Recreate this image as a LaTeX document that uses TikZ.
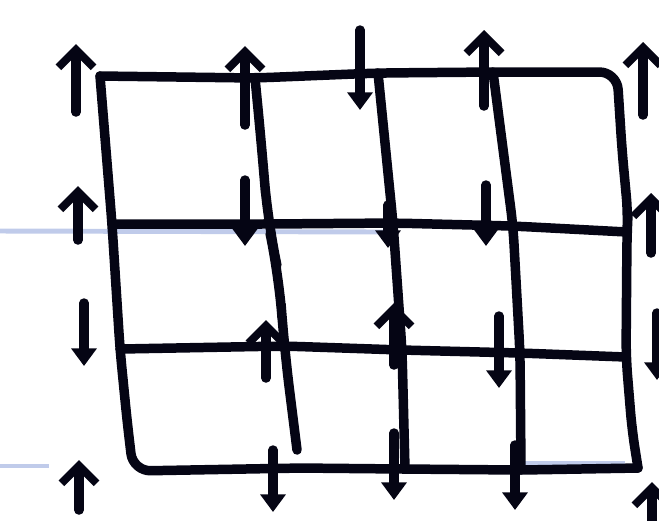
\documentclass[tikz,border=0pt]{standalone}
\usetikzlibrary{arrows.meta}
\definecolor{inkc}{RGB}{5,5,20}
\definecolor{rulec}{RGB}{150,168,220}
\tikzset{
  gridline/.style={line width=2.7pt, draw=inkc, line cap=round, line join=round, rounded corners=5pt},
  uparr/.style={line width=2.7pt, draw=inkc, line cap=round, -{Straight Barb[length=5pt,width=10pt,line width=2.3pt]}},
  downarr/.style={line width=2.7pt, draw=inkc, line cap=round, -{Triangle[length=5pt,width=7pt]}},
  ruleline/.style={line width=1.4pt, draw=rulec, opacity=0.6}
}
\begin{document}
\begin{tikzpicture}[x=0.01cm,y=-0.01cm]
\useasboundingbox (0,0) rectangle (659,520);
\clip (0,0) rectangle (659,520);
% notebook rule lines
\draw[ruleline] (0,231) -- (390,232);
\draw[ruleline,dash pattern=on 14pt off 4pt] (0,466) -- (60,466);
\draw[ruleline] (520,463) -- (625,463);
% grid points
\coordinate (p00) at (100,76);  \coordinate (p01) at (255,78);  \coordinate (p02) at (378,73);  \coordinate (p03) at (493,72);  \coordinate (p04) at (617,72);
\coordinate (p10) at (112,224); \coordinate (p11) at (268,224); \coordinate (p12) at (393,223); \coordinate (p13) at (513,226); \coordinate (p14) at (627,232);
\coordinate (p20) at (120,349); \coordinate (p21) at (284,346); \coordinate (p22) at (402,350); \coordinate (p23) at (520,353); \coordinate (p24) at (626,357);
\coordinate (p30) at (133,471); \coordinate (p31) at (297,450); \coordinate (p32) at (405,469); \coordinate (p33) at (521,470); \coordinate (p34) at (638,468);
% horizontal lines and outline
\draw[gridline] (p00) -- (p01) -- (p02) -- (p03) -- (p04) -- (622,150) -- (628,215) -- (p14) -- (p24) -- (632,430) -- (p34);
\draw[gridline] (p10) -- (p11) -- (p12) -- (p13) -- (p14);
\draw[gridline] (p20) -- (p21) -- (p22) -- (p23) -- (p24);
\draw[gridline] (p00) -- (p10) -- (p20) -- (127,420) -- (p30) -- (300,468) -- (p32) -- (p33) -- (p34);
% inner vertical lines
\draw[gridline, rounded corners=12pt] (p01) -- (262,150) -- (p11) -- (279,275) -- (p21) -- (p31);
\draw[gridline] (p02) -- (p12) -- (p22) -- (p32);
\draw[gridline] (p03) -- (p13) -- (p23) -- (p33);
% arrows, row 0
\coordinate (a00s) at (76,112);  \coordinate (a00e) at (76,44);
\coordinate (a01s) at (245,125); \coordinate (a01e) at (245,46);
\coordinate (a02s) at (360,30);  \coordinate (a02e) at (360,110);
\coordinate (a03s) at (484,106); \coordinate (a03e) at (484,30);
\coordinate (a04s) at (643,115); \coordinate (a04e) at (643,42);
\draw[uparr] (a00s) -- (a00e);
\draw[uparr] (a01s) -- (a01e);
\draw[downarr] (a02s) -- (a02e);
\draw[uparr] (a03s) -- (a03e);
\draw[uparr] (a04s) -- (a04e);
% row 1
\coordinate (a10s) at (78,240);  \coordinate (a10e) at (78,186);
\coordinate (a11s) at (245,180); \coordinate (a11e) at (245,246);
\coordinate (a12s) at (388,205); \coordinate (a12e) at (388,248);
\coordinate (a13s) at (486,185); \coordinate (a13e) at (486,246);
\coordinate (a14s) at (651,253); \coordinate (a14e) at (651,193);
\draw[uparr] (a10s) -- (a10e);
\draw[downarr] (a11s) -- (a11e);
\draw[downarr] (a12s) -- (a12e);
\draw[downarr] (a13s) -- (a13e);
\draw[uparr] (a14s) -- (a14e);
% row 2
\coordinate (a20s) at (84,303);  \coordinate (a20e) at (84,366);
\coordinate (a21s) at (266,378); \coordinate (a21e) at (266,320);
\coordinate (a22s) at (394,365); \coordinate (a22e) at (394,303);
\coordinate (a23s) at (499,316); \coordinate (a23e) at (499,388);
\coordinate (a24s) at (657,313); \coordinate (a24e) at (657,380);
\draw[downarr] (a20s) -- (a20e);
\draw[uparr] (a21s) -- (a21e);
\draw[uparr] (a22s) -- (a22e);
\draw[downarr] (a23s) -- (a23e);
\draw[downarr] (a24s) -- (a24e);
% row 3
\coordinate (a30s) at (79,510);  \coordinate (a30e) at (79,460);
\coordinate (a31s) at (273,450); \coordinate (a31e) at (273,512);
\coordinate (a32s) at (394,433); \coordinate (a32e) at (394,500);
\coordinate (a33s) at (515,445); \coordinate (a33e) at (515,510);
\coordinate (a34s) at (652,530); \coordinate (a34e) at (652,482);
\draw[uparr] (a30s) -- (a30e);
\draw[downarr] (a31s) -- (a31e);
\draw[downarr] (a32s) -- (a32e);
\draw[downarr] (a33s) -- (a33e);
\draw[uparr] (a34s) -- (a34e);
\end{tikzpicture}
\end{document}
